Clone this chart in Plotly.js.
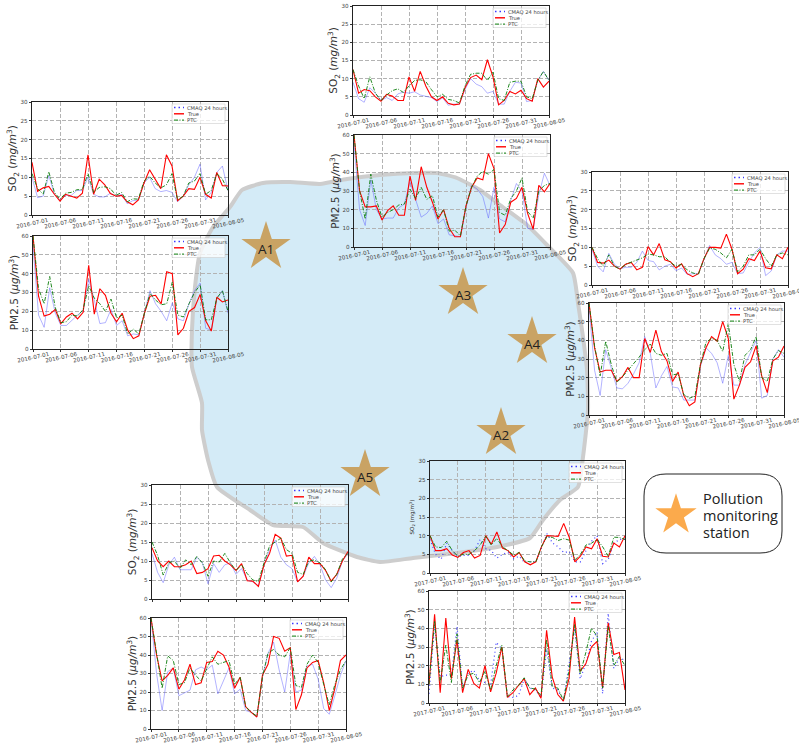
<!DOCTYPE html>
<html><head><meta charset="utf-8">
<script src="https://cdn.plot.ly/plotly-3.0.1.min.js"></script>
<style>html,body{margin:0;padding:0;background:#fff}</style></head>
<body><div id="chart" style="width:799px;height:744px"></div>
<script>
const dates2016=["2016-07-01","2016-07-02","2016-07-03","2016-07-04","2016-07-05","2016-07-06","2016-07-07","2016-07-08","2016-07-09","2016-07-10","2016-07-11","2016-07-12","2016-07-13","2016-07-14","2016-07-15","2016-07-16","2016-07-17","2016-07-18","2016-07-19","2016-07-20","2016-07-21","2016-07-22","2016-07-23","2016-07-24","2016-07-25","2016-07-26","2016-07-27","2016-07-28","2016-07-29","2016-07-30","2016-07-31","2016-08-01","2016-08-02","2016-08-03","2016-08-04","2016-08-05"];
const dates2017=dates2016.map(d=>d.replace("2016","2017"));

const a1So2True=[14,6.3,7.2,7.6,5.5,3.7,5.5,5,4.5,5.8,16,5.5,9.5,8,5.7,5,5.2,3.5,2.7,4,8.5,12,9.5,7,16,13,3.8,5,7,6.8,10,5.5,4.5,11.3,7.8,7.7];
const a1So2Ptc=[11,7,5.5,11.5,6,4.2,5.8,6,6.7,6.8,11,6,7.3,7.5,7,5.2,6,3.5,4.3,4.2,9,10.3,8.5,7.2,8,11,4,5,8.5,9,11,5.5,6.5,11,9.5,6.5];
const a1So2Cmaq=[10,4.6,5,10.5,5.5,4,5.2,5.2,6.5,6.5,10,5.5,4.8,4.8,5.8,5,5.5,3,3.8,4,8.5,10,7,6.2,6.5,6,3.5,5,8,10,13.5,4,6,11.3,13,6.5];
const a1PmTrue=[60,28,17.5,18.5,21,13.5,17,19,16,19.5,44.5,18.5,32,28.5,19,14.5,19,10,5.5,7,19,28,28.5,24,41,40,7.5,11,20,22,29,15,9.5,27.5,25,26];
const a1PmPtc=[60,32,24,38.5,22,14,14.5,18,17.5,21,33.5,27,24,20,26.5,16.5,18,8,10.5,8,19,29.5,26,23.5,24,35.5,18,17,24,30,34,15.5,15.5,27,31,20];
const a1PmCmaq=[55,18,11.5,32.5,19,12.5,12.5,15.5,18,20.5,37,26,13.5,14,21,12.5,15,7,8,7.5,18.5,31,24,20,15,24.5,16,15,24,31,35,11,10,27,31,19];

const a3So2True=[12.5,6,7,6.7,5,3.8,5.7,5.2,4,4,10.5,6.5,12,8,5,4,5,3.2,2.8,3,7.5,10.3,11,9.7,15.2,10.5,2.8,4,6.5,5.8,6.8,4.5,3.8,10,7.7,9.3];
const a3So2Ptc=[12.5,8,4.5,10.5,6,4,5.5,6.7,7.2,6.2,8,9.5,9.7,9.2,7,5,5.7,4.3,4,3.3,8,11.2,11.5,11.5,9.5,11.8,4.5,4,9,9.3,9.3,5,4.5,9.5,12,9.5];
const a3So2Cmaq=[9,4.5,3.5,7.5,6,4,4.8,4,5.8,6.3,6,6.4,5.5,5.2,4.8,3.7,4.7,2.7,3,3,7,10,8.5,7.8,6,6.5,3,3,6.5,9,8.8,3.7,4,9.5,12,9.5];
const a3PmTrue=[60,30,21.5,21.5,22,14.5,19.5,22,17,17,38,25,43,32,24,15,20,10,5.5,5.5,22,32,37,36,50,42,7.5,12,24,26,32,18,9.5,33,29.5,34];
const a3PmPtc=[60,30,15,39,25,16,18.5,20,22.5,23,31,26,32,25.5,27.5,16,20,8.5,9,6,22,32,38,40.5,39,41.5,18.5,17,26,30,37,19,15.5,30,33,34];
const a3PmCmaq=[55,20,11.5,36,20,15,15.5,15.5,21,23,35,26,16,18,22,12.5,15,6.5,6,5.5,21,33,31,27,15.5,32,15,13.5,25,34,30,10,9.5,28,39.5,33];

const a4So2True=[10,6,5.8,6.6,5,4.2,5.5,6,4,4.7,10.2,8,11,6.7,6.2,4.5,5.6,3,2.2,3,7,10,10,9.8,13.5,9.5,3,4.2,7,6.5,9,4.6,4.3,8,7,10];
const a4So2Ptc=[10,7,5,8,5,4.2,5.5,6,6.5,7.2,8.2,8,7.5,7.5,6,5,5.5,4,3.2,2.8,7,9.8,9.5,8.5,7.2,9.5,3.5,5,8,8,9.5,7,5,8,8.5,8];
const a4So2Cmaq=[9.5,5,3.5,8.4,5.5,4.3,4.7,4.7,6,9,6.5,6.2,4,5,5.5,3.8,4.5,2.8,3,3,6.8,10.5,8,7,5.5,6,3,3.2,6,8.5,10,2.5,3.7,8,9,9];
const a4PmTrue=[60,36,23,24,24,18,20.5,25.5,20,20,41,33.5,45.5,34,29,18,23,10.5,5,7,27,36,42,39.5,50,41,8.5,16,25.5,28.5,37,21,12,29,31,37];
const a4PmPtc=[60,37,21,39.5,27,17.5,20.5,24,27,31,35,38,33,32,33,21.5,22,11,9,10,27,39,41,40,34,49,27,18,32,35,42,20,18,30,34.5,33];
const a4PmCmaq=[58,24,10.5,35,25,14.5,14,17,22,28,42,33,14.5,21,26,15,14.5,8,8,8,26,36,33,28,17,32,16,16,27,34,40,9,10.5,30,35,31];

const a5So2True=[13.5,10,8.5,10,8.5,8.5,9,10,6.7,7,8,11.3,11.5,10,9,7.5,9.3,4.8,4.7,3.3,9,12,17,16,11.3,11.5,4.5,6,11,9.3,9.3,7.5,4.7,6.5,10,12.5];
const a5So2Ptc=[15,11.5,6.3,9.5,10,8,10.3,9,11.2,9.5,6,10,9.7,12,9.5,7.5,9,6.7,5,4.6,9.5,14,15,16,13,12,7,6.5,10,10.3,9.5,7.7,4.5,6.5,10.5,12];
const a5So2Cmaq=[12,7,4.3,9,11,7.7,7.7,7.7,11,9.5,4,9.3,7,9,9.5,6.5,8,5,4.5,3.5,9,13,15.5,11,9,8,4.5,6,9.5,11.2,9,5,3,5.5,10,12];
const a5PmTrue=[60,40,26,29,33,21.5,26.5,35,24,25,36,36.5,42,40,33.5,22,28,12,9,6.5,29,35,50,49,42,44,10.5,18.5,33,36,37,25,10,22,37,40];
const a5PmPtc=[60,42,22,39.5,37,24,25,33,29,26,33,39,35,36,37,24,28,12,9,7,28,41,43,40,39,44,23.5,22.5,35,40,36,24,13,24,32,37];
const a5PmCmaq=[60,30,10,31,33,18,19.5,21,32,33.5,32,34.5,19,26,33,19,21.5,10,9,6.5,28,41,47,32,20,41,20,21,34,35,27,11,8,18,29,37];

const a2So2True=[10,6,6,6.5,4.8,4.2,5.5,6,4,4.7,10,7.7,11,6.7,6,4.3,5.5,3,2.2,3,7,10,9.9,9.8,13.3,9.5,3,4.5,7,6.5,9.2,4.5,4.3,8,7,10];
const a2So2Ptc=[10,7,6.8,8.5,6,4.5,5,5,6,7.5,9.8,7.5,9.3,7,6,4.8,5.5,3.2,3,3,7,9.8,9.5,8.7,9.2,8.8,3.5,5,7.5,8,9,7,4.5,9.6,9.5,9];
const a2So2Cmaq=[9,5,3.7,8,6,4.3,4.7,4.7,6,9,6.5,6,4,5,5.5,3.8,4.5,2.8,3,3,6.8,10.5,8,7,5.5,5.7,3,3,6,8.5,10,2.5,3.7,8,9,9];
const a2PmTrue=[10,47.5,5.5,45.5,13,34,5.5,18,10.5,8,20,6,16,30,3,5.5,9.5,13,4.5,8,2.5,39,14,4.5,1,13,46,17,21,30,33,8,43,26,27,7];
const a2PmPtc=[10,44,11,31,11,37,8,15,16,11,17,7,20,31,3.5,7,9.5,13.5,8,7.5,4,34,9,8,1.5,17,42,15.5,27,40,36,8,41,20,25,20];
const a2PmCmaq=[5,42,14,15,14.5,41,8,16,17.5,12,11,9.5,32.5,29,3.5,3,4,13,8,7,3,29,8,7,1,20,40,13,21,33,38,5,48,18.5,24,23];

const so2TickVals=[0,5,10,15,20,25,30];
const pmTickVals=[0,10,20,30,40,50,60];
const seriesNames=["CMAQ 24 hours","True","PTC"];
const so2Title="SO<sub>2</sub> (<i>mg/m</i><sup>3</sup>)";
const so2TitleSmall="SO<sub>2</sub> (mg/m<sup>3</sup>)";
const pmTitle="PM2.5 (<i>µg/m</i><sup>3</sup>)";

const stationNames=["A1","A2","A3","A4","A5"];
const stationX=[266,501,463,532,365];
const stationY=[247,433,293,342,475];
const regionX=[242,263,290,320,347,380,413,437,457,480,500,527,547,573,578,583,587,588,583,578,560,543,530,497,457,413,380,357,323,303,273,250,217,208,202,202,192,192,195,200,213,230,242];
const regionY=[190,183,182,184,179,175,173,173,178,190,205,225,245,273,303,337,370,410,457,487,500,520,538,547,553,558,562,557,543,527,525,510,487,460,430,403,367,330,287,253,227,207,190];
const keyLines=["Pollution","monitoring","station"];
const keyLineY=[498,515,532];

const panels=[
 {c:a1So2Cmaq,t:a1So2True,p:a1So2Ptc,d:dates2016,ymax:30,ticks:so2TickVals,title:so2Title,box:[32,228,102,215]},
 {c:a1PmCmaq,t:a1PmTrue,p:a1PmPtc,d:dates2016,ymax:60,ticks:pmTickVals,title:pmTitle,box:[33,228,236,349]},
 {c:a3So2Cmaq,t:a3So2True,p:a3So2Ptc,d:dates2016,ymax:30,ticks:so2TickVals,title:so2Title,box:[353,549,6,115]},
 {c:a3PmCmaq,t:a3PmTrue,p:a3PmPtc,d:dates2016,ymax:60,ticks:pmTickVals,title:pmTitle,box:[354,550,135,247]},
 {c:a4So2Cmaq,t:a4So2True,p:a4So2Ptc,d:dates2016,ymax:30,ticks:so2TickVals,title:so2Title,box:[592,788,172,285]},
 {c:a4PmCmaq,t:a4PmTrue,p:a4PmPtc,d:dates2016,ymax:60,ticks:pmTickVals,title:pmTitle,box:[589,784,303,415]},
 {c:a5So2Cmaq,t:a5So2True,p:a5So2Ptc,d:dates2016,ymax:30,ticks:so2TickVals,title:so2Title,box:[152,348,485,599],hideX:true},
 {c:a5PmCmaq,t:a5PmTrue,p:a5PmPtc,d:dates2016,ymax:60,ticks:pmTickVals,title:pmTitle,box:[151,346,618,729]},
 {c:a2So2Cmaq,t:a2So2True,p:a2So2Ptc,d:dates2017,ymax:30,ticks:so2TickVals,title:so2TitleSmall,small:true,dotted:true,box:[430,625,461,573]},
 {c:a2PmCmaq,t:a2PmTrue,p:a2PmPtc,d:dates2017,ymax:60,ticks:pmTickVals,title:pmTitle,dotted:true,box:[429,625,591,703]}
];

const W=799,H=744;
const tickFont={family:"DejaVu Sans",size:5.6,color:"#444"};
const legendFont={family:"DejaVu Sans",size:5.2,color:"#444"};
const gridDash="4px,2px";
const traces=[
 {x:regionX,y:regionY,xaxis:"x",yaxis:"y",mode:"lines",fill:"toself",fillcolor:"#d4ebf7",
  line:{color:"#cdcdcd",width:4,shape:"spline",smoothing:0.5},hoverinfo:"skip",showlegend:false},
 {x:stationX,y:stationY,xaxis:"x",yaxis:"y",mode:"markers",marker:{symbol:"star",size:37,color:"#c9a364"},hoverinfo:"skip",showlegend:false},
 {x:[676],y:[515],xaxis:"x",yaxis:"y",mode:"markers",marker:{symbol:"star",size:31,color:"#fbaa4c"},hoverinfo:"skip",showlegend:false}
];
const shapes=[{type:"path",xref:"x",yref:"y",layer:"below",line:{color:"#222",width:1},fillcolor:"#fff",
  path:"M 666 474 L 760 474 Q 782 474 782 496 L 782 531 Q 782 553 760 553 L 666 553 Q 644 553 644 531 L 644 496 Q 644 474 666 474 Z"}];
const annotations=[];
stationNames.forEach((s,i)=>annotations.push({xref:"x",yref:"y",x:stationX[i],y:stationY[i]+1.5,showarrow:false,text:s,font:{family:"Open Sans",size:13.5,color:"#222"}}));
keyLines.forEach((s,i)=>annotations.push({xref:"x",yref:"y",x:701,y:keyLineY[i],xanchor:"left",showarrow:false,text:s,font:{family:"Open Sans",size:14.5,color:"#222"}}));
const layout={width:W,height:H,margin:{l:0,r:0,t:0,b:0},paper_bgcolor:"#fff",plot_bgcolor:"rgba(0,0,0,0)",showlegend:false,
 xaxis:{domain:[0,1],range:[0,W],visible:false,fixedrange:true},
 yaxis:{domain:[0,1],range:[H,0],visible:false,fixedrange:true},
 shapes:shapes,annotations:annotations};
const legendStyles=[{color:"#3a3aff",width:1.4,dash:"1.5px,3px"},{color:"#f00",width:1.4,dash:"solid"},{color:"#0a7d0a",width:1,dash:"4px,1.5px,1px,1.5px"}];
panels.forEach((p,i)=>{
 const n=i+2,[l,r,top,bot]=p.box,xa="x"+n,ya="y"+n;
 const cmaq=p.dotted?{color:"#3a3aff",width:1.2,dash:"1px,3px"}:{color:"rgba(80,80,255,0.55)",width:0.8,dash:"solid"};
 traces.push({x:p.d,y:p.c,xaxis:xa,yaxis:ya,name:seriesNames[0],mode:"lines",line:cmaq});
 traces.push({x:p.d,y:p.t,xaxis:xa,yaxis:ya,name:seriesNames[1],mode:"lines",line:{color:"#f00",width:1.1}});
 traces.push({x:p.d,y:p.p,xaxis:xa,yaxis:ya,name:seriesNames[2],mode:"lines",line:{color:"#0a7d0a",width:0.9,dash:"4px,1.5px,1px,1.5px"}});
 layout["xaxis"+n]={domain:[l/W,r/W],anchor:ya,type:"date",range:[p.d[0],p.d[35]],tick0:p.d[0],dtick:432000000,tickformat:"%Y-%m-%d",
  tickangle:-12,ticklabelshift:16,ticklabelstandoff:-3,ticklabeloverflow:"allow",ticklen:2,tickcolor:"#333",tickfont:tickFont,showline:true,mirror:true,linecolor:"#222",linewidth:1.2,
  showgrid:true,griddash:gridDash,gridcolor:"#b3b3b3",gridwidth:1,zeroline:false,fixedrange:true,showticklabels:!p.hideX};
 layout["yaxis"+n]={domain:[1-bot/H,1-top/H],anchor:xa,range:[0,p.ymax],tickvals:p.ticks,ticklen:2,tickcolor:"#333",tickfont:tickFont,
  showline:true,mirror:true,linecolor:"#222",linewidth:1.2,showgrid:true,griddash:gridDash,gridcolor:"#b3b3b3",gridwidth:1,zeroline:false,fixedrange:true,
  title:{text:p.title,font:{family:"DejaVu Sans",size:p.small?5.5:10.5,color:"#333"},standoff:p.small?3:0}};
 const lgR=r-3,lgL=lgR-53,lgT=top+2;
 shapes.push({type:"rect",xref:"x",yref:"y",layer:"above",x0:lgL,x1:lgR,y0:lgT,y1:lgT+19.5,fillcolor:"rgba(255,255,255,0.75)",line:{color:"#ccc",width:0.6}});
 seriesNames.forEach((s,k)=>{
  const ly=lgT+3.5+k*6.3;
  shapes.push({type:"line",xref:"x",yref:"y",layer:"above",x0:lgL+2,x1:lgL+12,y0:ly,y1:ly,line:legendStyles[k]});
  annotations.push({xref:"x",yref:"y",x:lgL+13.5,y:ly,xanchor:"left",showarrow:false,text:s,font:legendFont,borderpad:0});
 });
});
Plotly.newPlot("chart",traces,layout,{displayModeBar:false,staticPlot:true});
</script></body></html>
